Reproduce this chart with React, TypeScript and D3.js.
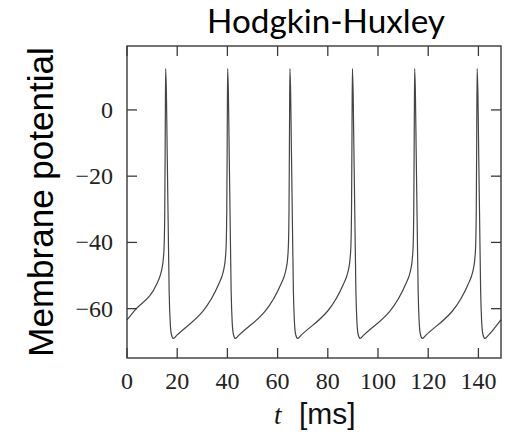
import React from "react";
import * as d3 from "d3";

// time (ms) and membrane potential (mV)
const timeMs: number[] = [
  0, 3.0,
  11.9, 13.1, 13.9, 14.4, 14.8, 15.05, 15.25, 15.4, 15.7, 16.0, 16.4, 16.8, 17.2, 17.7, 18.5, 19.9,
  36.6, 37.8, 38.6, 39.1, 39.5, 39.75, 39.95, 40.1, 40.4, 40.7, 41.1, 41.5, 41.9, 42.4, 43.2, 44.6,
  61.4, 62.6, 63.4, 63.9, 64.3, 64.55, 64.75, 64.9, 65.2, 65.5, 65.9, 66.3, 66.7, 67.2, 68.0, 69.4,
  86.3, 87.5, 88.3, 88.8, 89.2, 89.45, 89.65, 89.8, 90.1, 90.4, 90.8, 91.2, 91.6, 92.1, 92.9, 94.3,
  111.1, 112.3, 113.1, 113.6, 114.0, 114.25, 114.45, 114.6, 114.9, 115.2, 115.6, 116.0, 116.4, 116.9, 117.7, 119.1,
  136.0, 137.2, 138.0, 138.5, 138.9, 139.15, 139.35, 139.5, 139.8, 140.1, 140.5, 140.9, 141.3, 141.8, 142.6, 144.0, 149,
];
const voltage: number[] = [
  -63.4, -60.6,
  -52.5, -50.3, -48, -45.5, -41, -30, -5, 12.5, 5, -12, -34, -55, -64, -67.8, -69, -68,
  -52.5, -50.3, -48, -45.5, -41, -30, -5, 12.5, 5, -12, -34, -55, -64, -67.8, -69, -68,
  -52.5, -50.3, -48, -45.5, -41, -30, -5, 12.5, 5, -12, -34, -55, -64, -67.8, -69, -68,
  -52.5, -50.3, -48, -45.5, -41, -30, -5, 12.5, 5, -12, -34, -55, -64, -67.8, -69, -68,
  -52.5, -50.3, -48, -45.5, -41, -30, -5, 12.5, 5, -12, -34, -55, -64, -67.8, -69, -68,
  -52.5, -50.3, -48, -45.5, -41, -30, -5, 12.5, 5, -12, -34, -55, -64, -67.8, -69, -68, -63.3,
];

const xTicks: number[] = [0, 20, 40, 60, 80, 100, 120, 140];
const yTicks: number[] = [0, -20, -40, -60];
const xDomain: [number, number] = [0, 149];
const yDomain: [number, number] = [-74.9, 19.3];

const title = "Hodgkin-Huxley";
const yLabel = "Membrane potential";

const fmt = (v: number) => (v < 0 ? "\u2212" + Math.abs(v) : String(v));

export default function App() {
  const W = 510, H = 435;
  const left = 127, right = 501, top = 46, bottom = 358;
  const x = d3.scaleLinear().domain(xDomain).range([left, right]);
  const y = d3.scaleLinear().domain(yDomain).range([bottom, top]);
  const pts: [number, number][] = timeMs.map((t, i) => [t, voltage[i]]);
  const line = d3
    .line<[number, number]>()
    .x((d) => x(d[0]))
    .y((d) => y(d[1]))
    .curve(d3.curveMonotoneX);
  const tickLen = 10;
  const axisColor = "#3a3a3a";

  return (
    <svg
      width={W}
      height={H}
      style={{ position: "absolute", left: 0, top: 0, background: "#fff" }}
    >
      <rect x={0} y={0} width={W} height={H} fill="#fff" />
      <text
        x={326}
        y={33}
        textAnchor="middle"
        fontFamily="Lato, 'Open Sans', sans-serif"
        fontSize={33}
        fill="#000"
        textLength={238}
        lengthAdjust="spacingAndGlyphs"
      >
        {title}
      </text>
      <text
        transform={`translate(53, 202) rotate(-90)`}
        textAnchor="middle"
        fontFamily="'Liberation Sans', Arial, sans-serif"
        fontSize={35}
        fill="#000"
      >
        {yLabel}
      </text>

      <path d={line(pts) ?? ""} fill="none" stroke="#444" strokeWidth={1.2} />

      <rect
        x={left}
        y={top}
        width={right - left}
        height={bottom - top}
        fill="none"
        stroke={axisColor}
        strokeWidth={1.4}
      />
      {xTicks.map((t) => (
        <g key={"xt" + t}>
          <line x1={x(t)} x2={x(t)} y1={bottom} y2={bottom - tickLen} stroke={axisColor} strokeWidth={1.3} />
          <line x1={x(t)} x2={x(t)} y1={top} y2={top + tickLen} stroke={axisColor} strokeWidth={1.3} />
          <text
            x={x(t)}
            y={389}
            textAnchor="middle"
            fontFamily="'Liberation Serif', 'Times New Roman', serif"
            fontSize={24}
            fill="#222"
          >
            {fmt(t)}
          </text>
        </g>
      ))}
      {yTicks.map((v) => (
        <g key={"yt" + v}>
          <line x1={left} x2={left + tickLen} y1={y(v)} y2={y(v)} stroke={axisColor} strokeWidth={1.3} />
          <line x1={right} x2={right - tickLen} y1={y(v)} y2={y(v)} stroke={axisColor} strokeWidth={1.3} />
          <text
            x={113}
            y={y(v) + 8}
            textAnchor="end"
            fontFamily="'Liberation Serif', 'Times New Roman', serif"
            fontSize={24}
            fill="#222"
          >
            {fmt(v)}
          </text>
        </g>
      ))}
      <text y={424} fill="#111">
        <tspan
          x={274}
          fontFamily="'Liberation Serif', 'Times New Roman', serif"
          fontStyle="italic"
          fontSize={27}
        >
          t
        </tspan>
        <tspan
          x={299}
          fontFamily="'Liberation Sans', Arial, sans-serif"
          fontSize={30}
        >
          [ms]
        </tspan>
      </text>
    </svg>
  );
}
